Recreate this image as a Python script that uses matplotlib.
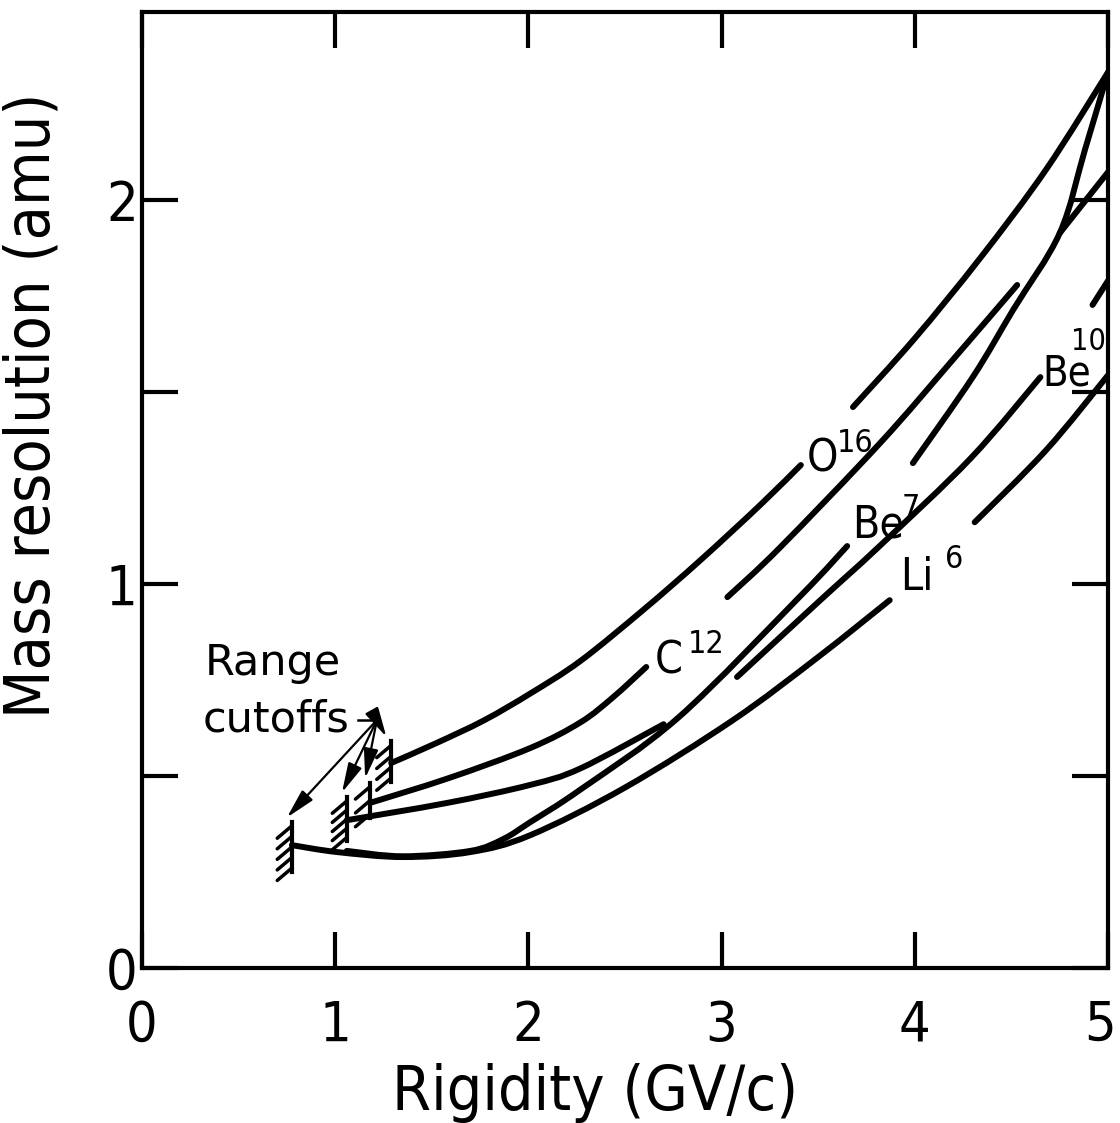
import numpy as np
import matplotlib
matplotlib.use('Agg')
import matplotlib.pyplot as plt
from matplotlib.path import Path
from matplotlib.patches import PathPatch
from matplotlib.transforms import ScaledTranslation

plt.rcParams['font.stretch'] = 'condensed'

nan = np.nan

# curves (gaps = nan, where the original line is broken)
o16_x = [1.29, 1.52, 1.77, 2.01, 2.27, 2.60, 2.89, 3.20, 3.41, nan, 3.68, 4.00, 4.34, 4.68, 5.0]
o16_y = [0.534, 0.585, 0.645, 0.715, 0.80, 0.935, 1.062, 1.206, 1.31, nan, 1.461, 1.64, 1.85, 2.08, 2.333]

c12_x = [1.18, 1.59, 2.01, 2.27, 2.44, 2.61, nan, 3.03, 3.30, 3.82, 4.20, 4.53, nan, 4.75, 5.0]
c12_y = [0.43, 0.495, 0.573, 0.64, 0.706, 0.784, nan, 0.966, 1.094, 1.367, 1.586, 1.779, nan, 1.914, 2.073]

be10_x = [1.06, 1.58, 2.01, 2.27, 2.70, nan, 3.08, 3.50, 3.82, 4.29, 4.65, nan, 4.92, 5.0]
be10_y = [0.385, 0.43, 0.477, 0.52, 0.635, nan, 0.758, 0.953, 1.10, 1.328, 1.539, nan, 1.727, 1.79]

be7_x = [1.06, 1.35, 1.70, 1.87, 2.01, 2.27, 2.78, 3.41, 3.65, nan, 3.99, 4.30, 4.51, 4.75, 4.88, 5.0]
be7_y = [0.305, 0.291, 0.305, 0.336, 0.38, 0.465, 0.654, 0.97, 1.099, nan, 1.315, 1.539, 1.715, 1.914, 2.13, 2.333]

li6_x = [0.776, 1.01, 1.35, 1.70, 2.01, 2.50, 3.06, 3.50, 3.87, nan, 4.31, 4.68, 5.0]
li6_y = [0.32, 0.302, 0.289, 0.302, 0.346, 0.47, 0.646, 0.81, 0.958, nan, 1.161, 1.349, 1.544]

# range cutoffs (hatched marks)
cut_x = [0.775, 1.06, 1.18, 1.29]
cut_lo = [0.25, 0.33, 0.39, 0.485]
cut_hi = [0.38, 0.445, 0.482, 0.59]
cut_strokes = [5, 5, 3, 4]

xticks = [0, 1, 2, 3, 4, 5]
yticks = [0, 0.5, 1, 1.5, 2]
ytick_labels = ['0', '', '1', '', '2']


def smooth_path(xs, ys):
    # Catmull-Rom through the read points, as cubic bezier pieces
    verts, codes = [], []
    x = np.asarray(xs, float)
    y = np.asarray(ys, float)
    breaks = np.where(np.isnan(x))[0]
    starts = np.r_[0, breaks + 1]
    ends = np.r_[breaks, len(x)]
    for a, b in zip(starts, ends):
        P = np.column_stack([x[a:b], y[a:b]])
        n = len(P)
        verts.append(P[0]); codes.append(Path.MOVETO)
        if n == 2:
            verts.append(P[1]); codes.append(Path.LINETO)
            continue
        for i in range(n - 1):
            p0 = P[i - 1] if i > 0 else P[i]
            p3 = P[i + 2] if i + 2 < n else P[i + 1]
            c1 = P[i] + (P[i + 1] - p0) / 6
            c2 = P[i + 1] - (p3 - P[i]) / 6
            verts += [c1, c2, P[i + 1]]
            codes += [Path.CURVE4] * 3
    return Path(verts, codes)


fig = plt.figure(figsize=(11.2, 11.23), dpi=100)
ax = fig.add_axes([142 / 1120, 1 - 968 / 1123, 966 / 1120, 956 / 1123])

for xs, ys in [(o16_x, o16_y), (c12_x, c12_y), (be10_x, be10_y), (be7_x, be7_y), (li6_x, li6_y)]:
    ax.add_patch(PathPatch(smooth_path(xs, ys), facecolor='none', edgecolor='black',
                           lw=4.3, capstyle='round', joinstyle='round'))

# hatched cutoff marks
for cx, lo, hi, n in zip(cut_x, cut_lo, cut_hi, cut_strokes):
    ax.plot([cx, cx], [lo, hi], color='black', lw=3)
    for yk in np.linspace(lo + 0.01, hi - 0.01, n):
        ax.plot([cx, cx - 0.075], [yk, yk - 0.032], color='black', lw=2.5, solid_capstyle='round')

# "Range cutoffs" note with arrows
ax.text(0.326, 0.763, 'Range', fontsize=31, fontstretch='normal', ha='left', va='baseline')
ax.text(0.316, 0.615, 'cutoffs', fontsize=31, fontstretch='normal', ha='left', va='baseline')
src = (1.216, 0.646)
ax.plot([1.12, src[0]], [src[1], src[1]], color='black', lw=1.8)
for cx, hi in zip(cut_x, cut_hi):
    ax.annotate('', xy=(cx - 0.025, hi + 0.012), xytext=src,
                arrowprops=dict(arrowstyle='-|>,head_length=0.9,head_width=0.22',
                                color='black', lw=1.6, mutation_scale=20,
                                shrinkA=0, shrinkB=0))

# curve labels
lab = dict(fontsize=32, ha='left', va='baseline')
sup = dict(fontsize=23, ha='left', va='baseline')
ax.text(3.441, 1.292, 'O', **lab)
ax.text(3.597, 1.344, '16', **sup)
ax.text(2.655, 0.768, 'C', **lab)
ax.text(2.826, 0.82, '12', **sup)
ax.text(3.675, 1.12, 'Be', **lab)
ax.text(3.93, 1.174, '7', **sup)
ax.text(3.923, 0.984, 'Li', **lab)
ax.text(4.156, 1.042, '6', **sup)
ax.text(4.66, 1.518, 'Be', fontsize=30, ha='left', va='baseline')
ax.text(4.81, 1.609, '10', fontsize=22, ha='left', va='baseline')

ax.set_xlim(0, 5)
ax.set_ylim(0, 2.49)
ax.set_xticks(xticks)
ax.set_xticklabels([str(v) for v in xticks])
ax.set_yticks(yticks)
ax.set_yticklabels(ytick_labels)
ax.tick_params(direction='in', length=26, width=3, top=True, right=True,
               labelsize=40)
ax.tick_params(axis='x', pad=22)
ax.tick_params(axis='y', pad=3)
for s in ax.spines.values():
    s.set_linewidth(3)
last = ax.get_xticklabels()[-1]
last.set_transform(last.get_transform() + ScaledTranslation(-8 / 100, 0, fig.dpi_scale_trans))

fig.text(595 / 1120, 1 - 1110 / 1123, 'Rigidity (GV/c)', fontsize=45, ha='center', va='baseline')
fig.text(33 / 1120, 1 - 405 / 1123, 'Mass resolution (amu)', fontsize=45, rotation=90,
         ha='center', va='center')

fig.savefig('out.png', dpi=100)
